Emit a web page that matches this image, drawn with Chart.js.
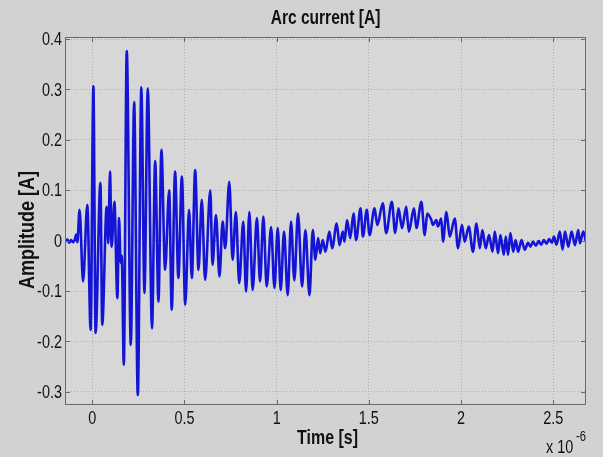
<!DOCTYPE html>
<html>
<head>
<meta charset="utf-8">
<script src="https://cdn.jsdelivr.net/npm/chart.js@4/dist/chart.umd.min.js"></script>
<style>
  html, body { margin: 0; padding: 0; background: #d3d3d3; }
  #wrap { width: 603px; height: 457px; }
</style>
</head>
<body>
<div id="wrap"><canvas id="arc"></canvas></div>
<script>
// Arc current waveform (time in microseconds, current in A)
const TIME_US = [
  -0.148, -0.135, -0.125, -0.115, -0.105, -0.095, -0.087, -0.081,
  -0.069, -0.050, -0.027, -0.009, 0.006, 0.018, 0.044, 0.054,
  0.078, 0.087, 0.096, 0.105, 0.120, 0.136, 0.145, 0.154, 0.160,
  0.171, 0.187, 0.209, 0.227, 0.247, 0.266, 0.283, 0.301, 0.324,
  0.341, 0.359, 0.375, 0.395, 0.417, 0.431, 0.449, 0.467, 0.486,
  0.504, 0.525, 0.540, 0.558, 0.576, 0.594, 0.612, 0.640, 0.652,
  0.671, 0.690, 0.707, 0.721, 0.743, 0.761, 0.779, 0.797, 0.819,
  0.834, 0.852, 0.870, 0.893, 0.910, 0.928, 0.946, 0.970, 0.988,
  1.006, 1.022, 1.040, 1.060, 1.078, 1.096, 1.116, 1.138, 1.156,
  1.178, 1.196, 1.210, 1.225, 1.236, 1.250, 1.265, 1.286, 1.301,
  1.326, 1.341, 1.359, 1.368, 1.382, 1.399, 1.417, 1.431, 1.455,
  1.468, 1.489, 1.504, 1.531, 1.546, 1.576, 1.594, 1.625, 1.643,
  1.661, 1.680, 1.703, 1.717, 1.745, 1.758, 1.785, 1.803, 1.817,
  1.839, 1.848, 1.866, 1.875, 1.893, 1.902, 1.921, 1.939, 1.966,
  1.984, 2.005, 2.020, 2.042, 2.065, 2.084, 2.102, 2.116, 2.134,
  2.152, 2.171, 2.183, 2.201, 2.214, 2.232, 2.243, 2.255, 2.268,
  2.283, 2.296, 2.310, 2.328, 2.346, 2.364, 2.377, 2.391, 2.406,
  2.421, 2.435, 2.449, 2.464, 2.478, 2.493, 2.504, 2.518, 2.536,
  2.551, 2.564, 2.582, 2.600, 2.618, 2.636, 2.645, 2.663, 2.678
];
const CURRENT_A = [
  -0.002, 0.002, -0.004, 0.001, -0.003, 0.002, 0.012, -0.003,
  0.061, -0.081, 0.071, -0.177, 0.306, -0.183, 0.115, -0.167,
  0.067, -0.005, 0.137, -0.012, 0.077, -0.114, 0.045, -0.044, -0.030,
  -0.246, 0.376, -0.207, 0.275, -0.306, 0.304, -0.104, 0.302, -0.174,
  0.158, -0.121, 0.180, -0.058, 0.100, -0.137, 0.137, -0.074, 0.127,
  -0.127, 0.061, -0.074, 0.140, -0.058, 0.081, -0.078, 0.100, -0.048,
  0.051, -0.071, 0.038, -0.015, 0.117, -0.038, 0.057, -0.084, 0.038,
  -0.101, 0.057, -0.098, 0.045, -0.081, 0.048, -0.091, 0.027, -0.094,
  0.025, -0.098, 0.018, -0.108, 0.038, -0.079, 0.054, -0.091, 0.021,
  -0.108, 0.021, -0.038, 0.005, -0.025, 0.001, -0.022, 0.018, -0.015,
  0.034, -0.009, 0.018, -0.002, 0.041, 0.005, 0.054, 0.001, 0.064,
  0.008, 0.061, 0.011, 0.064, 0.031, 0.074, 0.015, 0.077, 0.015,
  0.064, 0.025, 0.067, 0.018, 0.064, 0.025, 0.077, 0.011, 0.054,
  0.041, 0.031, 0.041, 0.028, 0.044, -0.002, 0.057, 0.008, 0.044,
  -0.015, 0.031, -0.002, 0.028, -0.022, 0.034, -0.015, 0.021, -0.015,
  0.011, -0.022, 0.018, -0.025, 0.011, -0.028, 0.008, -0.028, 0.015,
  -0.022, 0.001, -0.022, 0.001, -0.018, -0.004, -0.012, -0.002, -0.010,
  -0.001, -0.008, 0.001, -0.006, 0.003, -0.004, 0.008, -0.008, 0.018,
  -0.018, 0.018, -0.012, 0.018, -0.009, 0.021, -0.005, 0.018, -0.002
];

// Axis ticks and their labels
const X_TICKS = [0, 0.5, 1, 1.5, 2, 2.5];
const X_TICK_LABELS = ["0", "0.5", "1", "1.5", "2", "2.5"];
const Y_TICKS = [-0.3, -0.2, -0.1, 0, 0.1, 0.2, 0.3, 0.4];
const Y_TICK_LABELS = ["-0.3", "-0.2", "-0.1", "0", "0.1", "0.2", "0.3", "0.4"];

const FONT = "'Liberation Sans', Arial, sans-serif";

// text in the picture is tall and narrow, so squeeze it horizontally
function drawText(ctx, text, x, y, size, bold, sx, align, rotate) {
  ctx.save();
  ctx.translate(x, y);
  if (rotate) ctx.rotate(-Math.PI / 2);
  ctx.scale(sx, 1);
  ctx.font = (bold ? "bold " : "") + size + "px " + FONT;
  ctx.fillStyle = "#111";
  ctx.textAlign = align;
  ctx.textBaseline = "middle";
  ctx.fillText(text, 0, 0);
  ctx.restore();
}

const matlabAxes = {
  id: "matlabAxes",
  beforeDraw(chart) {
    const { ctx, chartArea: a } = chart;
    ctx.save();
    ctx.fillStyle = "#d2d2d2";
    ctx.fillRect(0, 0, chart.width, chart.height);
    ctx.fillStyle = "#d7d7d7";
    ctx.fillRect(a.left, a.top, a.right - a.left, a.bottom - a.top);
    ctx.restore();
  },
  afterDraw(chart) {
    const { ctx, chartArea: a } = chart;
    const xs = chart.scales.x, ys = chart.scales.y;

    // box + inward tick marks on all four sides
    ctx.save();
    ctx.strokeStyle = "#6a6a6a";
    ctx.lineWidth = 1;
    ctx.strokeRect(a.left + 0.5, a.top + 0.5, a.right - a.left - 1, a.bottom - a.top - 1);
    ctx.beginPath();
    X_TICKS.forEach((v) => {
      const px = Math.round(xs.getPixelForValue(v)) + 0.5;
      ctx.moveTo(px, a.bottom); ctx.lineTo(px, a.bottom - 5);
      ctx.moveTo(px, a.top); ctx.lineTo(px, a.top + 5);
    });
    Y_TICKS.forEach((v) => {
      const py = Math.round(ys.getPixelForValue(v)) + 0.5;
      ctx.moveTo(a.left, py); ctx.lineTo(a.left + 5, py);
      ctx.moveTo(a.right, py); ctx.lineTo(a.right - 5, py);
    });
    ctx.stroke();
    ctx.restore();

    // tick labels
    X_TICKS.forEach((v, i) => {
      drawText(ctx, X_TICK_LABELS[i], xs.getPixelForValue(v), a.bottom + 14, 19, false, 0.76, "center");
    });
    Y_TICKS.forEach((v, i) => {
      drawText(ctx, Y_TICK_LABELS[i], a.left - 3, ys.getPixelForValue(v) + 1, 19, false, 0.76, "right");
    });

    // titles
    drawText(ctx, "Arc current [A]", (a.left + a.right) / 2, 18, 21, true, 0.74, "center");
    drawText(ctx, "Time [s]", (a.left + a.right) / 2 + 2, 438, 21, true, 0.76, "center");
    drawText(ctx, "Amplitude [A]", 28, 230, 22, true, 0.82, "center", true);

    // exponent
    drawText(ctx, "x 10", 546, 448, 19, false, 0.76, "left");
    drawText(ctx, "-6", 576, 437, 14, false, 0.8, "left");
  }
};

new Chart(document.getElementById("arc"), {
  type: "line",
  data: {
    datasets: [{
      data: TIME_US.map((t, i) => ({ x: t, y: CURRENT_A[i] })),
      borderColor: "#1414d6",
      borderWidth: 2.6,
      pointRadius: 0,
      cubicInterpolationMode: "monotone",
      fill: false
    }]
  },
  options: {
    responsive: true,
    maintainAspectRatio: false,
    animation: false,
    layout: { padding: { left: 0, top: 37, right: 17, bottom: 0 } },
    plugins: { legend: { display: false }, tooltip: { enabled: false }, title: { display: false } },
    scales: {
      x: {
        type: "linear",
        min: -0.148,
        max: 2.678,
        afterBuildTicks: (s) => { s.ticks = X_TICKS.map((v) => ({ value: v })); },
        afterFit: (s) => { s.height = 52; },
        ticks: { display: false },
        grid: { color: "#adadad", lineWidth: 1, drawTicks: false },
        border: { display: false, dash: [1, 2] }
      },
      y: {
        type: "linear",
        min: -0.326,
        max: 0.404,
        afterBuildTicks: (s) => { s.ticks = Y_TICKS.map((v) => ({ value: v })); },
        afterFit: (s) => { s.width = 65; },
        ticks: { display: false },
        grid: { color: "#adadad", lineWidth: 1, drawTicks: false },
        border: { display: false, dash: [1, 2] }
      }
    }
  },
  plugins: [matlabAxes]
});
</script>
</body>
</html>
